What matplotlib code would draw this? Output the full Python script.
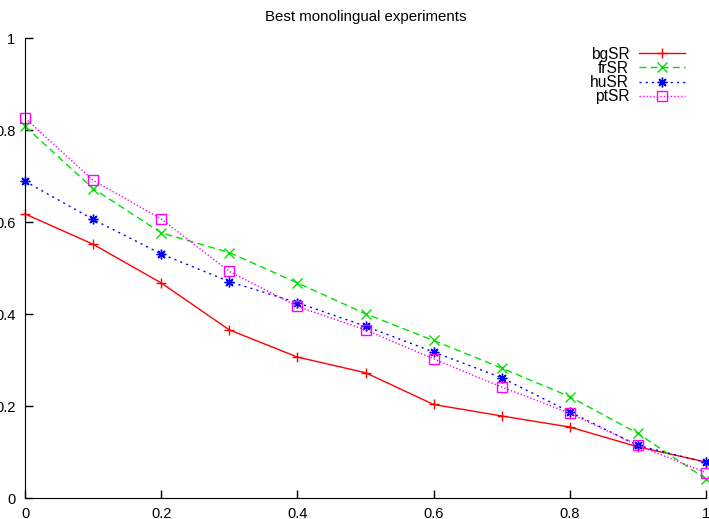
import numpy as np
import matplotlib.pyplot as plt
from matplotlib.ticker import FormatStrFormatter

plt.rcParams['font.family'] = ['Liberation Sans', 'DejaVu Sans']

recall = [0.0, 0.1, 0.2, 0.3, 0.4, 0.5, 0.6, 0.7, 0.8, 0.9, 1.0]

bgSR = [0.618, 0.552, 0.468, 0.366, 0.307, 0.273, 0.204, 0.179, 0.155, 0.112, 0.079]
frSR = [0.808, 0.673, 0.577, 0.534, 0.468, 0.401, 0.343, 0.283, 0.221, 0.141, 0.042]
huSR = [0.689, 0.606, 0.531, 0.471, 0.425, 0.374, 0.318, 0.262, 0.188, 0.115, 0.078]
ptSR = [0.826, 0.691, 0.607, 0.493, 0.417, 0.366, 0.303, 0.242, 0.185, 0.115, 0.056]

series = [
    ("bgSR", bgSR, '#ff0000', '-', '+'),
    ("frSR", frSR, '#00e000', (0, (5, 3)), 'x'),
    ("huSR", huSR, '#0000ff', (0, (1.5, 3)), (8, 2, 0)),
    ("ptSR", ptSR, '#ff00ff', (0, (1, 1.5)), 's'),
]

fig = plt.figure(figsize=(7.09, 5.19), dpi=100)
ax = fig.add_axes([0.0353, 0.0397, 0.9605, 0.887])

for name, vals, col, ls, mk in series:
    ax.plot(recall, vals, color=col, linestyle=ls, linewidth=1.0,
            marker=mk, markersize=7, markerfacecolor='none',
            markeredgecolor=col, markeredgewidth=1.0,
            label=name, clip_on=False)

ax.set_xlim(0, 1)
ax.set_ylim(0, 1)
ax.set_xticks(np.arange(0, 1.01, 0.2))
ax.set_yticks(np.arange(0, 1.01, 0.2))
ax.xaxis.set_major_formatter(FormatStrFormatter('%g'))
ax.yaxis.set_major_formatter(FormatStrFormatter('%g'))
ax.tick_params(direction='in', length=6, width=1, labelsize=10.5)
ax.tick_params(axis='x', pad=6)
ax.tick_params(axis='y', pad=7)
ax.spines['top'].set_visible(False)
ax.spines['right'].set_visible(False)

ax.set_title("Best monolingual experiments", fontsize=10.8, pad=12)

ax.legend(loc='upper right', bbox_to_anchor=(0.99, 1.012), frameon=False,
          markerfirst=False, fontsize=11.2, handlelength=3.0,
          labelspacing=-0.05, handletextpad=0.6)

fig.savefig("out.png", dpi=100)
